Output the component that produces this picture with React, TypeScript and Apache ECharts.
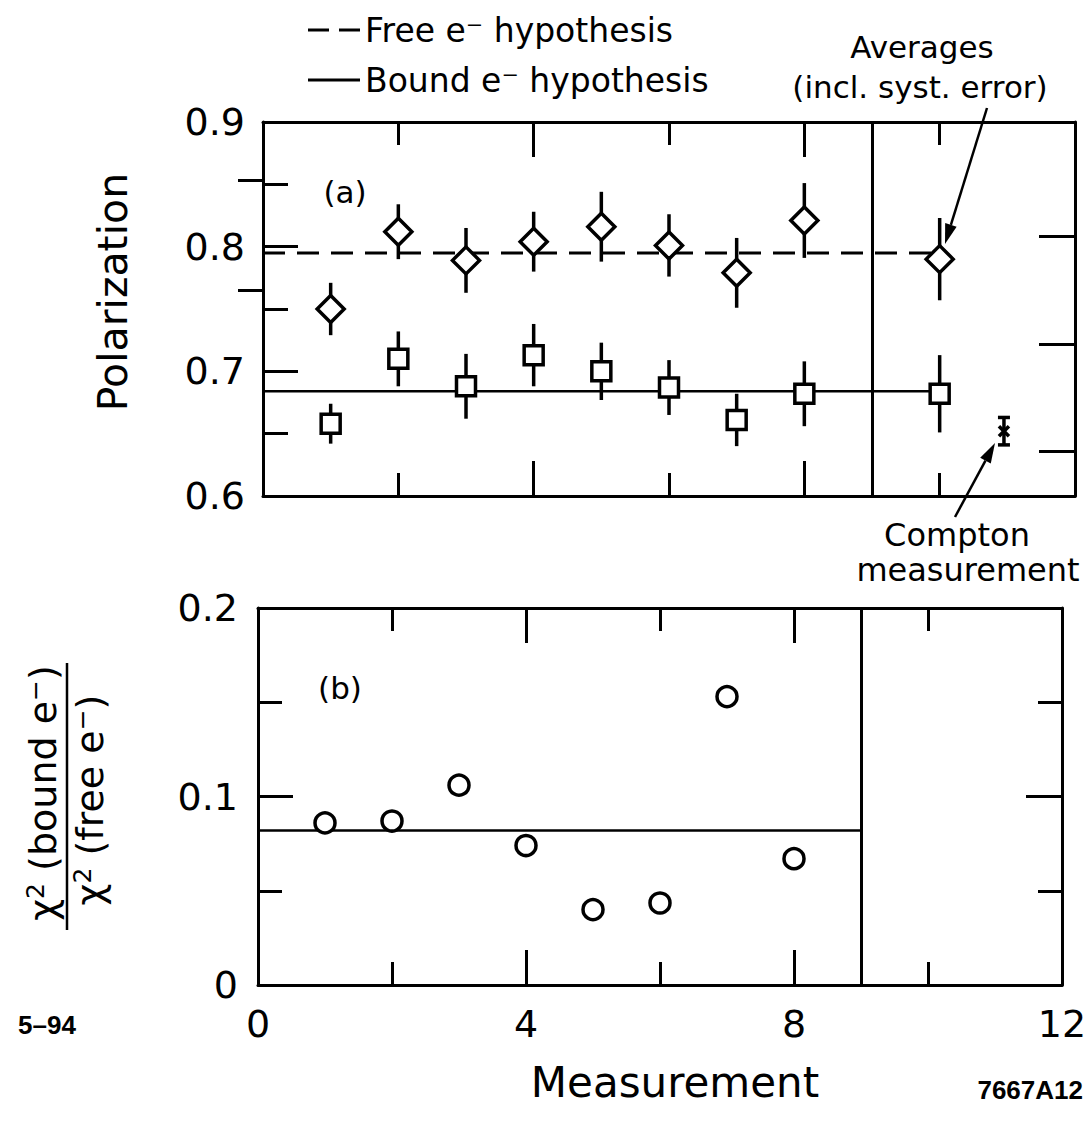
import React, { useEffect, useRef } from 'react';
import * as echarts from 'echarts';

// ---------------- data ----------------
const measurements = [1, 2, 3, 4, 5, 6, 7, 8];
const freeValues = [0.750, 0.812, 0.789, 0.804, 0.816, 0.801, 0.779, 0.821];
const freeErrors = [0.021, 0.022, 0.026, 0.024, 0.028, 0.025, 0.028, 0.030];
const boundValues = [0.658, 0.710, 0.688, 0.713, 0.700, 0.687, 0.661, 0.682];
const boundErrors = [0.016, 0.022, 0.026, 0.025, 0.023, 0.022, 0.021, 0.026];

const averageX = 10;
const freeAverage = 0.790;
const freeAverageError = 0.033;
const boundAverage = 0.682;
const boundAverageError = 0.031;

const comptonX = 10.95;
const comptonValue = 0.652;
const comptonError = 0.011;

const freeFitLine = [[0, 0.795], [10, 0.795]];
const boundFitLine = [[0, 0.684], [10, 0.684]];

const chiRatio = [0.086, 0.087, 0.106, 0.074, 0.040, 0.0435, 0.153, 0.067];
const chiFitLine = [[0, 0.082], [9, 0.082]];

const dividerX = 9;

const xTickValues = [0, 4, 8, 12];
const polarizationTicks = [0.6, 0.7, 0.8, 0.9];
const chiTicks = [0, 0.1, 0.2];
const rightTicksLong = [0.636, 0.722, 0.808];
const rightTicksShort = [0.765, 0.853];

const FREE = 'Free e\u207B hypothesis';
const BOUND = 'Bound e\u207B hypothesis';

// ---------------- helpers ----------------
const FONT = 'DejaVu Sans';
const BLACK = '#000';

const freeData = measurements.map((m, i) => [m, freeValues[i], freeErrors[i]]).concat([[averageX, freeAverage, freeAverageError]]);
const boundData = measurements.map((m, i) => [m, boundValues[i], boundErrors[i]]).concat([[averageX, boundAverage, boundAverageError]]);
const chiData = measurements.map((m, i) => [m, chiRatio[i]]);

const errorBarItem = (_p: any, api: any) => {
  const x = api.value(0), y = api.value(1), e = api.value(2);
  const a = api.coord([x, y + e]);
  const b = api.coord([x, y - e]);
  return { type: 'line', shape: { x1: a[0], y1: a[1], x2: b[0], y2: b[1] }, style: { stroke: BLACK, lineWidth: 3.5 } };
};

const comptonItem = (_p: any, api: any) => {
  const x = api.value(0), y = api.value(1), e = api.value(2);
  const c = api.coord([x, y]);
  const t = api.coord([x, y + e]);
  const b = api.coord([x, y - e]);
  const st = { stroke: BLACK, lineWidth: 3.5 };
  const s = 5;
  return {
    type: 'group',
    children: [
      { type: 'line', shape: { x1: t[0], y1: t[1], x2: b[0], y2: b[1] }, style: st },
      { type: 'line', shape: { x1: t[0] - 6, y1: t[1], x2: t[0] + 6, y2: t[1] }, style: st },
      { type: 'line', shape: { x1: b[0] - 6, y1: b[1], x2: b[0] + 6, y2: b[1] }, style: st },
      { type: 'line', shape: { x1: c[0] - s, y1: c[1] - s, x2: c[0] + s, y2: c[1] + s }, style: st },
      { type: 'line', shape: { x1: c[0] - s, y1: c[1] + s, x2: c[0] + s, y2: c[1] - s }, style: st },
    ],
  };
};

function arrow(x1: number, y1: number, x2: number, y2: number) {
  const dx = x2 - x1, dy = y2 - y1;
  const len = Math.sqrt(dx * dx + dy * dy);
  const ux = dx / len, uy = dy / len;
  const hl = 20, hw = 6;
  const bx = x2 - ux * hl, by = y2 - uy * hl;
  return [
    { type: 'line', shape: { x1, y1, x2: bx, y2: by }, style: { stroke: BLACK, lineWidth: 2.5 } },
    {
      type: 'polygon',
      shape: { points: [[x2, y2], [bx - uy * hw, by + ux * hw], [bx + uy * hw, by - ux * hw]] },
      style: { fill: BLACK },
    },
  ];
}

const txt = (text: string, x: number, y: number, size: number, extra: any = {}) => ({
  type: 'text',
  x,
  y,
  rotation: extra.rotation || 0,
  style: {
    text,
    fill: BLACK,
    font: `${extra.weight || 'normal'} ${size}px ${extra.family || FONT}`,
    align: extra.align || 'center',
    verticalAlign: 'middle',
  },
});

const fracText = (text: string, x: number, y: number) => ({
  type: 'text',
  x,
  y,
  rotation: Math.PI / 2,
  style: {
    text,
    fill: BLACK,
    align: 'center',
    verticalAlign: 'middle',
    rich: {
      a: { fontSize: 38, fontFamily: FONT, fill: BLACK, lineHeight: 40 },
      s: { fontSize: 25, fontFamily: FONT, fill: BLACK, verticalAlign: 'top', lineHeight: 40 },
    },
  },
});

const xAxisBase = (gridIndex: number, position: string, showLabels: boolean) => ({
  type: 'value',
  gridIndex,
  position,
  min: 0,
  max: 12,
  interval: 4,
  axisLine: { show: true, onZero: false, lineStyle: { color: BLACK, width: 3 } },
  axisTick: { show: true, inside: true, length: 35, lineStyle: { color: BLACK, width: 3 } },
  minorTick: { show: true, splitNumber: 2, length: 23, lineStyle: { color: BLACK, width: 3 } },
  splitLine: { show: false },
  axisLabel: {
    show: showLabels,
    fontSize: 38,
    fontFamily: FONT,
    color: BLACK,
    margin: 20,
    customValues: xTickValues,
  },
});

const option: any = {
  animation: false,
  backgroundColor: '#fff',
  legend: {
    orient: 'vertical',
    left: 303,
    top: 7,
    itemWidth: 52,
    itemHeight: 3,
    itemGap: 14,
    data: [
      { name: FREE, icon: 'path://M0,0h21v3h-21z M31,0h21v3h-21z' },
      { name: BOUND, icon: 'rect' },
    ],
    itemStyle: { color: BLACK, borderWidth: 0 },
    textStyle: { fontSize: 33, fontFamily: FONT, color: BLACK, lineHeight: 36 },
  },
  grid: [
    { left: 263, top: 122, width: 812, height: 374, containLabel: false },
    { left: 258, top: 608, width: 804, height: 377, containLabel: false },
  ],
  xAxis: [
    xAxisBase(0, 'bottom', false),
    xAxisBase(0, 'top', false),
    xAxisBase(1, 'bottom', true),
    xAxisBase(1, 'top', false),
  ],
  yAxis: [
    {
      type: 'value',
      gridIndex: 0,
      position: 'left',
      min: 0.6,
      max: 0.9,
      interval: 0.1,
      axisLine: { show: true, onZero: false, lineStyle: { color: BLACK, width: 3 } },
      axisTick: { show: true, inside: true, length: 35, lineStyle: { color: BLACK, width: 3 } },
      minorTick: { show: true, splitNumber: 2, length: 25, lineStyle: { color: BLACK, width: 3 } },
      splitLine: { show: false },
      axisLabel: {
        fontSize: 38,
        fontFamily: FONT,
        color: BLACK,
        margin: 18,
        customValues: polarizationTicks,
        formatter: (v: number) => v.toFixed(1),
      },
    },
    {
      type: 'value',
      gridIndex: 0,
      position: 'right',
      min: 0.6,
      max: 0.9,
      axisLine: { show: true, onZero: false, lineStyle: { color: BLACK, width: 3 } },
      axisTick: { show: true, inside: true, length: 36, customValues: rightTicksLong, lineStyle: { color: BLACK, width: 3 } },
      splitLine: { show: false },
      axisLabel: { show: false, customValues: rightTicksLong },
    },
    {
      type: 'value',
      gridIndex: 0,
      position: 'right',
      min: 0.6,
      max: 0.9,
      axisLine: { show: false },
      axisTick: { show: true, inside: true, length: 25, customValues: rightTicksShort, lineStyle: { color: BLACK, width: 3 } },
      splitLine: { show: false },
      axisLabel: { show: false, customValues: rightTicksShort },
    },
    {
      type: 'value',
      gridIndex: 1,
      position: 'left',
      min: 0,
      max: 0.2,
      interval: 0.1,
      axisLine: { show: true, onZero: false, lineStyle: { color: BLACK, width: 3 } },
      axisTick: { show: true, inside: true, length: 35, lineStyle: { color: BLACK, width: 3 } },
      minorTick: { show: true, splitNumber: 2, length: 24, lineStyle: { color: BLACK, width: 3 } },
      splitLine: { show: false },
      axisLabel: {
        fontSize: 38,
        fontFamily: FONT,
        color: BLACK,
        margin: 20,
        customValues: chiTicks,
        formatter: (v: number) => (v === 0 ? '0' : v.toFixed(1)),
      },
    },
    {
      type: 'value',
      gridIndex: 1,
      position: 'right',
      min: 0,
      max: 0.2,
      interval: 0.1,
      axisLine: { show: true, onZero: false, lineStyle: { color: BLACK, width: 3 } },
      axisTick: { show: true, inside: true, length: 36, lineStyle: { color: BLACK, width: 3 } },
      minorTick: { show: true, splitNumber: 2, length: 24, lineStyle: { color: BLACK, width: 3 } },
      splitLine: { show: false },
      axisLabel: { show: false },
    },
  ],
  series: [
    {
      name: FREE,
      type: 'line',
      xAxisIndex: 0,
      yAxisIndex: 0,
      data: freeFitLine,
      symbol: 'none',
      color: BLACK,
      lineStyle: { color: BLACK, width: 3, type: [22, 12] },
      z: 2,
      markLine: {
        silent: true,
        symbol: ['none', 'none'],
        label: { show: false },
        lineStyle: { color: BLACK, width: 3, type: 'solid' },
        data: [{ xAxis: dividerX }],
      },
    },
    {
      name: BOUND,
      type: 'line',
      xAxisIndex: 0,
      yAxisIndex: 0,
      data: boundFitLine,
      symbol: 'none',
      color: BLACK,
      lineStyle: { color: BLACK, width: 2.5, type: 'solid' },
      z: 2,
    },
    {
      type: 'custom',
      xAxisIndex: 0,
      yAxisIndex: 0,
      data: freeData,
      encode: { x: 0, y: 1 },
      renderItem: errorBarItem,
      z: 3,
    },
    {
      type: 'custom',
      xAxisIndex: 0,
      yAxisIndex: 0,
      data: boundData,
      encode: { x: 0, y: 1 },
      renderItem: errorBarItem,
      z: 3,
    },
    {
      type: 'scatter',
      xAxisIndex: 0,
      yAxisIndex: 0,
      data: freeData.map((d) => [d[0], d[1]]),
      symbol: 'diamond',
      symbolSize: [27, 27],
      itemStyle: { color: '#fff', borderColor: BLACK, borderWidth: 3.5, opacity: 1 },
      z: 5,
    },
    {
      type: 'scatter',
      xAxisIndex: 0,
      yAxisIndex: 0,
      data: boundData.map((d) => [d[0], d[1]]),
      symbol: 'rect',
      symbolSize: [19, 19],
      itemStyle: { color: '#fff', borderColor: BLACK, borderWidth: 3.5, opacity: 1 },
      z: 5,
    },
    {
      type: 'custom',
      xAxisIndex: 0,
      yAxisIndex: 0,
      data: [[comptonX, comptonValue, comptonError]],
      encode: { x: 0, y: 1 },
      renderItem: comptonItem,
      z: 5,
    },
    {
      type: 'line',
      xAxisIndex: 2,
      yAxisIndex: 3,
      data: chiFitLine,
      symbol: 'none',
      lineStyle: { color: BLACK, width: 2.5 },
      z: 2,
      markLine: {
        silent: true,
        symbol: ['none', 'none'],
        label: { show: false },
        lineStyle: { color: BLACK, width: 3, type: 'solid' },
        data: [{ xAxis: dividerX }],
      },
    },
    {
      type: 'scatter',
      xAxisIndex: 2,
      yAxisIndex: 3,
      data: chiData,
      symbol: 'circle',
      symbolSize: 20,
      itemStyle: { color: '#fff', borderColor: BLACK, borderWidth: 3.5, opacity: 1 },
      z: 5,
    },
  ],
  graphic: [
    txt('Polarization', 113, 292, 41, { rotation: Math.PI / 2 }),
    txt('Measurement', 675, 1082, 42),
    txt('(a)', 345, 192, 31),
    txt('(b)', 340, 688, 31),
    txt('Averages', 922, 47, 31),
    txt('(incl. syst. error)', 920, 87, 31),
    txt('Compton', 957, 535, 32),
    txt('measurement', 968, 570, 32),
    ...arrow(987, 108, 945, 244),
    ...arrow(955, 517, 995, 443),
    fracText('{a|\u03C7}{s|2}{a| (bound e}{s|\u2212}{a|)}', 43, 793),
    { type: 'line', shape: { x1: 67, y1: 663, x2: 67, y2: 930 }, style: { stroke: BLACK, lineWidth: 2.5 } },
    fracText('{a|\u03C7}{s|2}{a| (free e}{s|\u2212}{a|)}', 90, 800),
    txt('5\u201394', 18, 1025, 26, { align: 'left', weight: 'bold', family: 'Liberation Sans' }),
    txt('7667A12', 1083, 1090, 26, { align: 'right', weight: 'bold', family: 'Liberation Sans' }),
  ],
};

export default function App() {
  const ref = useRef<HTMLDivElement>(null);
  useEffect(() => {
    document.body.style.margin = '0';
    const chart = echarts.init(ref.current!, null, { renderer: 'svg' });
    chart.setOption(option);
    return () => chart.dispose();
  }, []);
  return (
    <div
      ref={ref}
      style={{ position: 'absolute', left: 0, top: 0, width: 1091, height: 1135, background: '#fff' }}
    />
  );
}
